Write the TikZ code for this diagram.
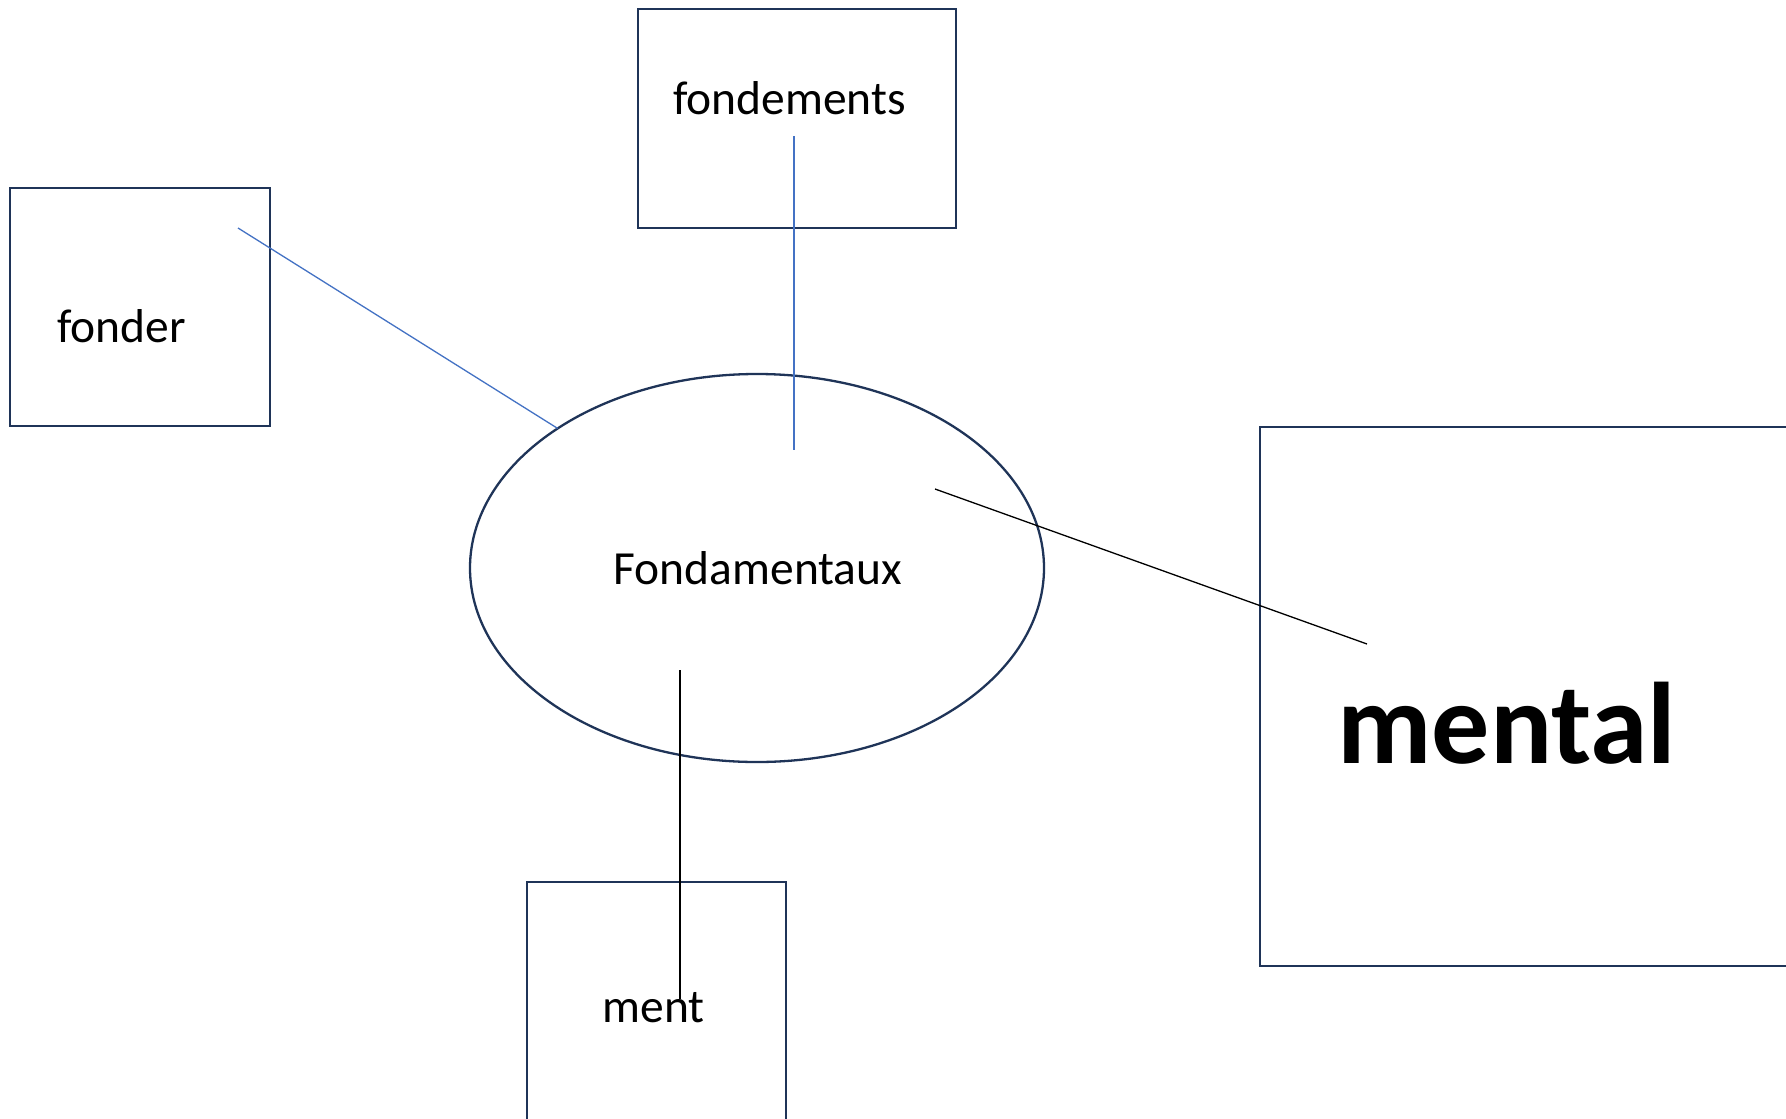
\documentclass[tikz,border=0pt]{standalone}
\usepackage{fontspec}
\setmainfont{Carlito}
\usetikzlibrary{shapes.geometric}
\definecolor{navy}{HTML}{1F3458}
\definecolor{linkblue}{HTML}{4472C4}
\tikzset{
  box/.style={draw=navy, line width=2.7pt, rectangle, inner sep=0pt, outer sep=0pt},
  hub/.style={draw=navy, line width=2.3pt, ellipse, inner sep=0pt, outer sep=0pt,
              minimum width=574pt, minimum height=388pt},
  word/.style={inner sep=0pt, anchor=base, font=\fontsize{47.5}{57}\selectfont},
  bigword/.style={inner sep=0pt, anchor=base, font=\fontsize{116}{139}\selectfont\bfseries},
  bluelink/.style={draw=linkblue, line width=1.3pt},
  blacklink/.style={draw=black, line width=1.3pt}
}
\begin{document}
\begin{tikzpicture}[x=1pt, y=-1pt]
  \useasboundingbox (0,0) rectangle (1786,1119);
  \clip (0,0) rectangle (1786,1119);
  \fill[white] (0,0) rectangle (1786,1119);

  % boxes around the words
  \node[box, minimum width=260pt, minimum height=238pt] (fonderbox) at (140,307) {};
  \node[box, minimum width=318pt, minimum height=219pt] (fondbox) at (797,118.5) {};
  \node[box, minimum width=259pt, minimum height=280pt] (mentbox) at (656.5,1022) {};
  \node[box, minimum width=580pt, minimum height=539pt] (mentalbox) at (1550,696.5) {};

  % central ellipse
  \node[hub] (ell) at (757,568) {};

  % words
  \node[word] (fonder) at (121.5,342) {fonder};
  \node[word] (fondements) at (789.5,114) {fondements};
  \node[word] (fondamentaux) at (758,584) {Fondamentaux};
  \node[word] (ment) at (653.5,1022) {ment};
  \node[bigword] (mental) at (1507,763) {mental};

  % free ends of the connectors
  \coordinate (fonderIn) at (238,228);
  \coordinate (fondIn) at (794,136);
  \coordinate (ellTop) at (794,450);
  \coordinate (ellRight) at (935,489);
  \coordinate (mentalIn) at (1367,644);
  \coordinate (ellLow) at (680,670);
  \coordinate (mentIn) at (680,999);

  % connectors
  \draw[bluelink] (fonderIn) -- (ell.145.5);
  \draw[bluelink] (fondIn) -- (ellTop);
  \draw[blacklink] (ellRight) -- (mentalIn);
  \draw[blacklink] (ellLow) -- (mentIn);
\end{tikzpicture}
\end{document}
